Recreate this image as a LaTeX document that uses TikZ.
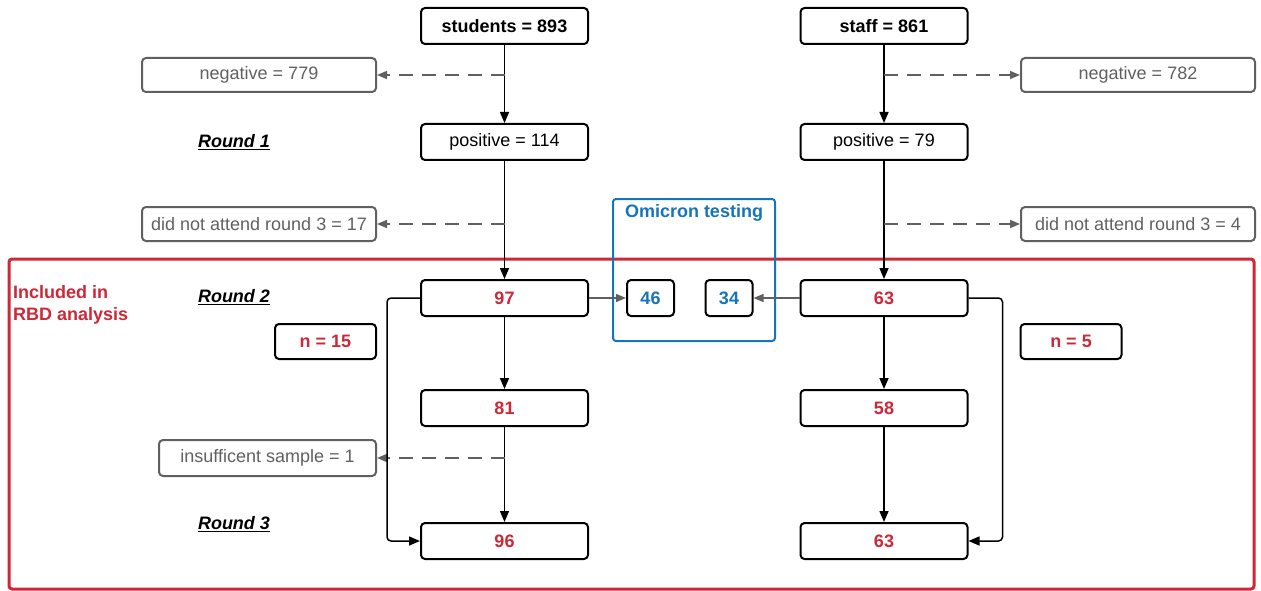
\documentclass[tikz,border=0pt]{standalone}
\usepackage{fontspec}
\setmainfont{Liberation Sans}
\usetikzlibrary{arrows.meta}

\definecolor{rbdred}{RGB}{204,40,56}
\definecolor{omiblue}{RGB}{22,116,186}
\definecolor{flowgray}{RGB}{96,96,96}

\tikzset{
	box/.style={draw,line width=2pt,rounded corners=4pt,minimum width=167pt,
		minimum height=36pt,inner sep=0pt,font=\fontsize{18}{22}\selectfont},
	headbox/.style={box,font=\fontsize{18}{22}\selectfont\bfseries},
	numbox/.style={box,text=rbdred,font=\fontsize{18}{22}\selectfont\bfseries},
	outbox/.style={box,draw=flowgray,text=flowgray,minimum width=234pt,minimum height=34pt},
	omibox/.style={numbox,text=omiblue,minimum width=47pt},
	nbox/.style={numbox,minimum width=101pt,minimum height=35pt},
	roundlbl/.style={font=\fontsize{18}{22}\selectfont\bfseries\itshape},
	solidarrow/.style={line width=1.5pt,-{Triangle[length=11pt,width=9pt]}},
	grayarrow/.style={line width=1.5pt,flowgray,-{Triangle[length=10pt,width=8pt]}},
	dasharrow/.style={grayarrow,dash pattern=on 14pt off 9pt}
}

\begin{document}
\begin{tikzpicture}[x=1pt,y=-1pt]
	\useasboundingbox (0,0) rectangle (1261,591);

	% frames
	\draw[rbdred,line width=3pt,rounded corners=3pt] (9,259) rectangle (1254,589);
	\node[text=rbdred,align=left,anchor=north west,inner sep=0pt,
		font=\fontsize{18}{22}\selectfont\bfseries] (incl) at (13,285) {Included in\\RBD analysis};
	\draw[omiblue,line width=2pt,rounded corners=3pt] (613,199) rectangle (775,341);
	\node[text=omiblue,font=\fontsize{18}{20}\selectfont\bfseries] (omi) at (694,213) {Omicron testing};

	\foreach \y/\i in {142/1,297/2,524/3}
		\node[roundlbl] (round\i) at (234,\y) {\underline{Round \i}};

	% students
	\node[headbox] (stu) at (504.5,26) {students = 893};
	\node[box] (pos114) at (504.5,142) {positive = 114};
	\node[numbox] (r97) at (504.5,298) {97};
	\node[numbox] (r81) at (504.5,408) {81};
	\node[numbox] (r96) at (504.5,541) {96};
	\node[outbox] (neg779) at (259,75) {negative = 779};
	\node[outbox] (dna17) at (259,224) {did not attend round 3 = 17};
	\node[outbox,minimum width=217pt,minimum height=36pt] (insuf) at (267.5,458) {insufficent sample = 1};
	\node[nbox] (n15) at (325.5,341.5) {n = 15};

	% staff
	\node[headbox] (sta) at (884,26) {staff = 861};
	\node[box] (pos79) at (884,142) {positive = 79};
	\node[numbox] (s63) at (884,298) {63};
	\node[numbox] (s58) at (884,408) {58};
	\node[numbox] (s63b) at (884,541) {63};
	\node[outbox] (neg782) at (1138,75) {negative = 782};
	\node[outbox] (dna4) at (1138,224) {did not attend round 3 = 4};
	\node[nbox] (n5) at (1071,341.5) {n = 5};

	% omicron
	\node[omibox] (o46) at (650.5,298) {46};
	\node[omibox] (o34) at (729,298) {34};

	% connectors
	\draw[solidarrow] (stu) -- (pos114);
	\draw[solidarrow] (pos114) -- (r97);
	\draw[solidarrow] (r97) -- (r81);
	\draw[solidarrow] (r81) -- (r96);
	\draw[solidarrow] (sta) -- (pos79);
	\draw[solidarrow] (pos79) -- (s63);
	\draw[solidarrow] (s63) -- (s58);
	\draw[solidarrow] (s58) -- (s63b);

	\draw[dasharrow] (neg779 -| stu) -- (neg779.east);
	\draw[dasharrow] (dna17 -| stu) -- (dna17.east);
	\draw[dasharrow] (insuf -| stu) -- (insuf.east);
	\draw[dasharrow] (neg782 -| sta) -- (neg782.west);
	\draw[dasharrow] (dna4 -| sta) -- (dna4.west);

	\draw[grayarrow] (r97.east) -- (o46.west);
	\draw[grayarrow] (s63.west) -- (o34.east);

	\draw[solidarrow,rounded corners=4pt] (r97.west) -- ++(-33,0) |- (r96.west);
	\draw[solidarrow,rounded corners=4pt] (s63.east) -- ++(34,0) |- (s63b.east);
\end{tikzpicture}
\end{document}
